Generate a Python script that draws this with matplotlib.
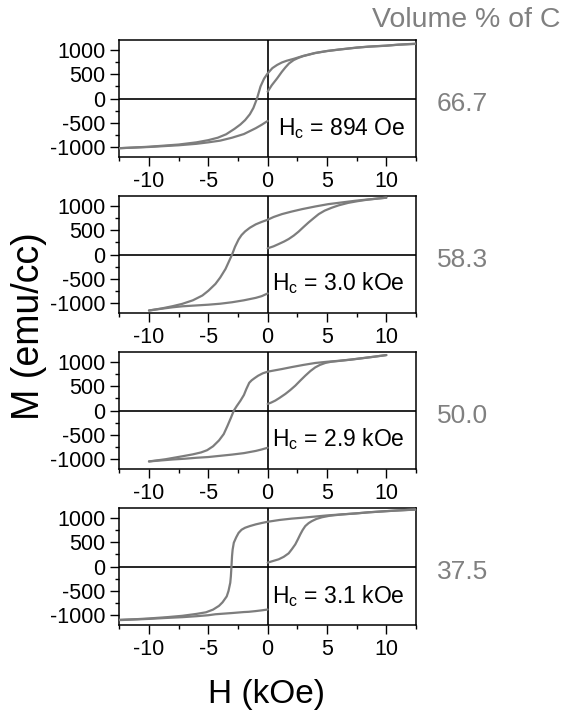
import matplotlib
matplotlib.use("Agg")
import matplotlib.pyplot as plt
from matplotlib.ticker import MultipleLocator

plt.rcParams['font.family'] = ['Liberation Sans', 'DejaVu Sans']
plt.rcParams['axes.unicode_minus'] = False
plt.rcParams['mathtext.fontset'] = 'custom'
plt.rcParams['mathtext.rm'] = 'Liberation Sans'

# ---------------- data (H in kOe, M in emu/cc) ----------------
volume_labels = ["66.7", "58.3", "50.0", "37.5"]
hc_labels = ["894 Oe", "3.0 kOe", "2.9 kOe", "3.1 kOe"]

# Panel 1 : 66.7 %
p1_desc_H = [12.5, 11, 10, 8.5, 7.5, 6, 5, 4, 3, 2.2, 1.6, 1.2, 0.8, 0.4, 0,
             -0.3, -0.6, -0.9, -1.2, -1.5, -1.9, -2.3, -2.8, -3.5, -4.2, -5, -6, -7.5, -10, -12.5]
p1_desc_M = [1125, 1105, 1085, 1065, 1045, 1005, 975, 935, 875, 815, 775, 740, 690, 625, 516,
             410, 250, 0, -190, -320, -440, -530, -620, -730, -800, -850, -895, -940, -985, -1015]
p1_asc_H = [-12.5, -10, -7.5, -6, -5, -4, -3, -2, -1, -0.5, 0]
p1_asc_M = [-1015, -990, -955, -925, -895, -860, -800, -725, -605, -535, -457]
p1_rec_H = [0, 0.35, 0.8, 1.2, 1.5, 1.8, 2.2, 2.6, 3.0, 4, 5, 6, 7.5, 8.5, 10, 11, 12.5]
p1_rec_M = [143, 275, 415, 550, 640, 720, 790, 835, 870, 932, 973, 1003, 1043, 1063, 1083, 1103, 1120]

# Panel 2 : 58.3 %
p2_desc_H = [10, 9, 8, 7.4, 6.3, 5.1, 4, 2.9, 2, 1.2, 0.5, 0, -0.5, -1.0, -1.5, -1.9, -2.2,
             -2.45, -2.75, -3.0, -3.3, -3.55, -4.0, -4.4, -5.0, -5.5, -6.3, -7.2, -8.0, -8.9, -10]
p2_desc_M = [1165, 1140, 1118, 1103, 1070, 1033, 985, 931, 880, 829, 770, 714, 670, 620, 550, 475, 400,
             310, 160, 0, -160, -293, -470, -600, -740, -837, -935, -1008, -1055, -1100, -1144]
p2_asc_H = [-10, -9, -8, -7.2, -6, -5, -4, -3, -2, -1, -0.5, 0]
p2_asc_M = [-1144, -1110, -1078, -1058, -1040, -1025, -1005, -975, -935, -885, -850, -795]
p2_rec_H = [0, 0.5, 0.93, 1.4, 1.77, 2.2, 2.6, 3.0, 3.45, 3.9, 4.3, 4.8, 5.4, 6.0, 6.8, 7.6, 8.5, 9.3, 10]
p2_rec_M = [129, 170, 217, 270, 319, 390, 469, 560, 659, 750, 829, 900, 960, 1010, 1060, 1095, 1128, 1150, 1165]

# Panel 3 : 50.0 %
p3_desc_H = [10, 9, 8, 7, 6, 5, 4, 3, 2, 1.2, 0.5, 0, -0.4, -0.8, -1.1, -1.35, -1.55, -1.8, -2.0,
             -2.3, -2.6, -2.85, -3.1, -3.4, -3.7, -4.1, -4.6, -5.1, -5.6, -6.3, -7.2, -8.6, -10]
p3_desc_M = [1137, 1105, 1075, 1045, 1020, 1000, 975, 935, 890, 851, 820, 797, 765, 715, 665, 620, 570, 440, 320,
             200, 95, 0, -150, -320, -480, -610, -730, -810, -855, -895, -935, -995, -1040]
p3_asc_H = [-10, -9, -8, -7, -6, -5, -4, -3, -2, -1, -0.5, 0]
p3_asc_M = [-1040, -1020, -1000, -985, -965, -950, -925, -900, -870, -825, -795, -760]
p3_rec_H = [0, 0.3, 0.64, 1.0, 1.49, 1.9, 2.33, 2.75, 3.17, 3.6, 4.01, 4.4, 4.85, 5.3, 6, 7, 8, 9, 10]
p3_rec_M = [137, 165, 205, 260, 341, 420, 511, 615, 715, 810, 885, 935, 975, 998, 1017, 1043, 1073, 1104, 1137]

# Panel 4 : 37.5 %
p4_desc_H = [12.5, 11, 10, 8.5, 7.4, 6, 5, 4, 2.9, 2, 1, 0, -0.5, -1.0, -1.5, -1.9, -2.2, -2.45, -2.65,
             -2.85, -2.95, -3.0, -3.05, -3.1, -3.15, -3.3, -3.45, -3.8, -4.1, -4.6, -5.2, -6, -7.2, -8.5,
             -10, -11, -12.5]
p4_desc_M = [1170, 1150, 1136, 1112, 1089, 1065, 1048, 1025, 1000, 982, 955, 918, 893, 865, 830, 796, 755, 690, 600,
             490, 350, 218, 0, -200, -330, -500, -610, -730, -803, -880, -935, -968, -1007, -1035,
             -1061, -1075, -1089]
p4_asc_H = [-12.5, -11, -10, -8.5, -7.2, -6, -5, -4.4, -3, -2, -1.6, -1, -0.5, 0]
p4_asc_M = [-1095, -1080, -1070, -1050, -1035, -1015, -995, -975, -950, -930, -925, -910, -895, -878]
p4_rec_H = [0, 0.45, 0.93, 1.35, 1.77, 2.05, 2.33, 2.55, 2.75, 2.95, 3.17, 3.45, 3.73, 4.1, 4.57,
            5.2, 6.25, 7.4, 8.5, 10, 11, 12.5]
p4_rec_M = [82, 115, 150, 200, 272, 360, 456, 560, 660, 750, 830, 890, 932, 975, 1010,
            1040, 1068, 1088, 1111, 1135, 1150, 1168]

panels = [
    [(p1_desc_H, p1_desc_M), (p1_asc_H, p1_asc_M), (p1_rec_H, p1_rec_M)],
    [(p2_desc_H, p2_desc_M), (p2_asc_H, p2_asc_M), (p2_rec_H, p2_rec_M)],
    [(p3_desc_H, p3_desc_M), (p3_asc_H, p3_asc_M), (p3_rec_H, p3_rec_M)],
    [(p4_desc_H, p4_desc_M), (p4_asc_H, p4_asc_M), (p4_rec_H, p4_rec_M)],
]

x_ticks = [-10, -5, 0, 5, 10]
y_ticks = [-1000, -500, 0, 500, 1000]

# ---------------- layout ----------------
W, H = 568, 713
fig = plt.figure(figsize=(W / 100, H / 100), dpi=100)

left = 119.3 / W
width = 296.7 / W
height = 117 / H
tops_px = [40, 196, 352, 508]
hc_x = [0.536, 0.514, 0.514, 0.514]
hc_y = [0.19, 0.20, 0.20, 0.19]

curve_color = '#7d7d7d'
label_gray = '#808080'

for i, branches in enumerate(panels):
    bottom = 1 - (tops_px[i] + 117) / H
    ax = fig.add_axes([left, bottom, width, height])
    for hh, mm in branches:
        ax.plot(hh, mm, color=curve_color, lw=1.6, solid_capstyle='round',
                solid_joinstyle='round', zorder=3)
    ax.axhline(0, color='black', lw=1.2, zorder=2)
    ax.axvline(0, color='black', lw=1.2, zorder=2)
    ax.set_xlim(-12.5, 12.5)
    ax.set_ylim(-1195, 1200)
    ax.set_xticks(x_ticks)
    ax.set_xticklabels([str(t) for t in x_ticks])
    ax.set_yticks(y_ticks)
    ax.set_yticklabels([str(t) for t in y_ticks])
    ax.xaxis.set_minor_locator(MultipleLocator(2.5))
    ax.yaxis.set_minor_locator(MultipleLocator(250))
    ax.tick_params(which='both', direction='out', top=False, right=False, width=1.0,
                   labelsize=15.5, colors='black')
    ax.tick_params(which='major', length=6.3)
    ax.tick_params(which='minor', length=3.2)
    ax.tick_params(axis='y', pad=3.5)
    ax.tick_params(axis='x', pad=3.5)
    for sp in ax.spines.values():
        sp.set_linewidth(1.1)
    ax.text(hc_x[i], hc_y[i], r'H$_\mathregular{c}$ = ' + hc_labels[i], transform=ax.transAxes,
            fontsize=16.5, ha='left', va='baseline', color='black')
    ax.text(1.071, 0.45, volume_labels[i], transform=ax.transAxes, fontsize=19,
            ha='left', va='center', color=label_gray)

fig.text(560 / W, 1 - 20 / H, 'Volume % of C', fontsize=20.5, color=label_gray,
         ha='right', va='center')
fig.text(29 / W, 1 - 326 / H, 'M (emu/cc)', fontsize=27, rotation=90,
         ha='center', va='center', color='black')
fig.text(267 / W, 1 - 694 / H, 'H (kOe)', fontsize=24, ha='center', va='center', color='black')

fig.savefig('out.png', dpi=100)
